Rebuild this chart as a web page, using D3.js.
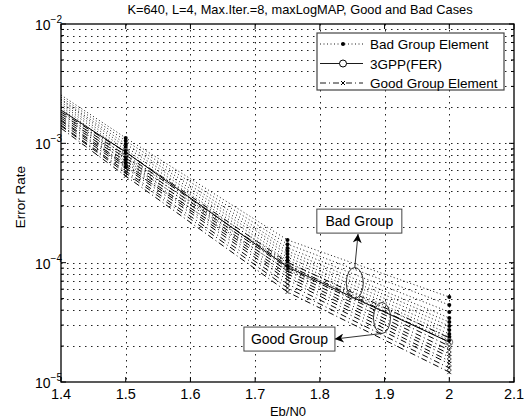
<!DOCTYPE html>
<html>
<head>
<meta charset="utf-8">
<script src="https://cdn.jsdelivr.net/npm/d3@7"></script>
<style>
    body { margin: 0; background: #fff; }
    text { font-family: "Liberation Sans", Arial, sans-serif; fill: #000; }
</style>
</head>
<body>
<div id="chart"></div>
<script>
// Eb/N0 points of every curve
const ebn0 = [1.4, 1.5, 1.75, 2.0];

// error rates of the bad group elements (dotted, dot markers)
const badGroup = [
    [2.54e-3, 1.11e-3, 1.55e-4, 5.15e-5],
    [2.44e-3, 1.05e-3, 1.43e-4, 4.42e-5],
    [2.35e-3, 9.87e-4, 1.33e-4, 3.86e-5],
    [2.31e-3, 9.31e-4, 1.25e-4, 3.44e-5],
    [2.22e-3, 8.79e-4, 1.18e-4, 3.18e-5],
    [2.14e-3, 8.30e-4, 1.11e-4, 2.95e-5],
    [2.06e-3, 7.68e-4, 1.05e-4, 2.73e-5],
    [1.98e-3, 7.25e-4, 9.93e-5, 2.53e-5],
    [1.90e-3, 6.84e-4, 9.37e-5, 2.38e-5],
    [1.83e-3, 6.33e-4, 8.68e-5, 2.25e-5]
];

// error rates of the good group elements (dash-dot, x markers)
const goodGroup = [
    [1.83e-3, 8.45e-4, 1.01e-4, 2.34e-5],
    [1.76e-3, 7.98e-4, 9.55e-5, 2.16e-5],
    [1.69e-3, 7.53e-4, 9.02e-5, 2.00e-5],
    [1.63e-3, 7.11e-4, 8.51e-5, 1.85e-5],
    [1.57e-3, 6.71e-4, 8.04e-5, 1.72e-5],
    [1.54e-3, 6.46e-4, 7.59e-5, 1.62e-5],
    [1.48e-3, 6.21e-4, 7.16e-5, 1.50e-5],
    [1.42e-3, 5.86e-4, 6.62e-5, 1.42e-5],
    [1.40e-3, 5.64e-4, 6.14e-5, 1.31e-5],
    [1.34e-3, 5.32e-4, 5.68e-5, 1.21e-5]
];

// 3GPP reference interleaver (solid, open circles)
const gppFer = [1.90e-3, 8.45e-4, 9.20e-5, 2.16e-5];

const xTicks = [1.4, 1.5, 1.6, 1.7, 1.8, 1.9, 2.0, 2.1];
const xTickLabels = ['1.4', '1.5', '1.6', '1.7', '1.8', '1.9', '2', '2.1'];
const yDecades = [-5, -4, -3, -2];

const title = 'K=640, L=4, Max.Iter.=8, maxLogMAP, Good and Bad Cases';
const legendLabels = ['Bad Group Element', '3GPP(FER)', 'Good Group Element'];

// callouts: ellipse centre, arrow tip and label box centre in data units
const callouts = [
    { label: 'Bad Group', ellipse: [1.854, 6.76e-5], tip: [1.859, 1.74e-4], box: [1.861, 2.23e-4], boxW: 85 },
    { label: 'Good Group', ellipse: [1.896, 3.44e-5], tip: [1.823, 2.29e-5], box: [1.753, 2.29e-5], boxW: 91 }
];

const width = 526, height = 419;
const margin = { top: 24, right: 12, bottom: 37, left: 61 };

const svg = d3.select('#chart').append('svg')
    .attr('width', width)
    .attr('height', height);

const xScale = d3.scaleLinear()
    .domain([1.4, 2.1])
    .range([margin.left, width - margin.right]);

const yScale = d3.scaleLog()
    .domain([1e-5, 1e-2])
    .range([height - margin.bottom, margin.top]);

const plotW = width - margin.left - margin.right;
const plotH = height - margin.top - margin.bottom;

// minor values 2..9 of every decade
const yMinor = [];
yDecades.slice(0, -1).forEach(e => {
    for (let m = 2; m <= 9; m++) yMinor.push(m * Math.pow(10, e));
});

// grid
const grid = svg.append('g').attr('class', 'grid')
    .attr('stroke', '#222')
    .attr('stroke-width', 1)
    .attr('stroke-dasharray', '1.5,4.5');

grid.selectAll('.gx')
    .data(xTicks.slice(1, -1))
    .enter().append('line')
    .attr('x1', d => Math.round(xScale(d)) + 0.5).attr('x2', d => Math.round(xScale(d)) + 0.5)
    .attr('y1', margin.top).attr('y2', height - margin.bottom);

grid.selectAll('.gy')
    .data(yMinor.concat(yDecades.slice(1, -1).map(e => Math.pow(10, e))))
    .enter().append('line')
    .attr('x1', margin.left).attr('x2', width - margin.right)
    .attr('y1', d => Math.round(yScale(d)) + 0.5).attr('y2', d => Math.round(yScale(d)) + 0.5);

// curves
svg.append('clipPath').attr('id', 'plotClip')
    .append('rect')
    .attr('x', margin.left).attr('y', margin.top)
    .attr('width', plotW).attr('height', plotH);

const plot = svg.append('g').attr('clip-path', 'url(#plotClip)');

const line = d3.line()
    .x(d => xScale(d[0]))
    .y(d => yScale(d[1]));

const toPoints = values => values.map((v, i) => [ebn0[i], v]);

goodGroup.forEach(series => {
    plot.append('path')
        .datum(toPoints(series))
        .attr('fill', 'none')
        .attr('stroke', '#000')
        .attr('stroke-width', 1)
        .attr('stroke-dasharray', '6,3,1,3')
        .attr('d', line);
});

badGroup.forEach(series => {
    plot.append('path')
        .datum(toPoints(series))
        .attr('fill', 'none')
        .attr('stroke', '#000')
        .attr('stroke-width', 0.9)
        .attr('stroke-dasharray', '1,2.5')
        .attr('d', line);
});

plot.append('path')
    .datum(toPoints(gppFer))
    .attr('fill', 'none')
    .attr('stroke', '#000')
    .attr('stroke-width', 1)
    .attr('d', line);

// markers (first point sits on the axis edge and shows none)
goodGroup.forEach(series => {
    plot.selectAll(null)
        .data(toPoints(series).slice(1))
        .enter().append('path')
        .attr('transform', d => 'translate(' + xScale(d[0]) + ',' + yScale(d[1]) + ')')
        .attr('d', 'M-2,-2L2,2M-2,2L2,-2')
        .attr('stroke', '#000')
        .attr('stroke-width', 0.8);
});

badGroup.forEach(series => {
    plot.selectAll(null)
        .data(toPoints(series).slice(1))
        .enter().append('circle')
        .attr('cx', d => xScale(d[0]))
        .attr('cy', d => yScale(d[1]))
        .attr('r', 2)
        .attr('fill', '#000');
});

plot.selectAll('.gppMarker')
    .data(toPoints(gppFer).slice(1))
    .enter().append('circle')
    .attr('cx', d => xScale(d[0]))
    .attr('cy', d => yScale(d[1]))
    .attr('r', 3.5)
    .attr('fill', 'none')
    .attr('stroke', '#777')
    .attr('stroke-width', 1);

// callouts
const defs = svg.append('defs');
defs.append('marker')
    .attr('id', 'arrowHead')
    .attr('viewBox', '0 0 10 10')
    .attr('refX', 10).attr('refY', 5)
    .attr('markerWidth', 11).attr('markerHeight', 9)
    .attr('markerUnits', 'userSpaceOnUse')
    .attr('orient', 'auto')
    .append('path')
    .attr('d', 'M0,0L10,5L0,10L3,5Z')
    .attr('fill', '#000');

callouts.forEach(c => {
    const ex = xScale(c.ellipse[0]), ey = yScale(c.ellipse[1]);
    const tx = xScale(c.tip[0]), ty = yScale(c.tip[1]);
    const bx = xScale(c.box[0]), by = yScale(c.box[1]);

    svg.append('ellipse')
        .attr('cx', ex).attr('cy', ey)
        .attr('rx', 8.5).attr('ry', 15.5)
        .attr('fill', 'none')
        .attr('stroke', '#333')
        .attr('stroke-width', 1);

    // arrow leaves the ellipse at its top or lower side
    const sx = ex;
    const sy = tx < ex ? ey + 15.5 : ey - 15.5;
    svg.append('line')
        .attr('x1', sx).attr('y1', sy)
        .attr('x2', tx).attr('y2', ty)
        .attr('stroke', '#333')
        .attr('stroke-width', 1)
        .attr('marker-end', 'url(#arrowHead)');

    svg.append('rect')
        .attr('x', bx - c.boxW / 2).attr('y', by - 12)
        .attr('width', c.boxW).attr('height', 24)
        .attr('fill', '#fff')
        .attr('stroke', '#444')
        .attr('stroke-width', 1);

    svg.append('text')
        .attr('x', bx).attr('y', by + 5)
        .attr('text-anchor', 'middle')
        .style('font-size', '14px')
        .text(c.label);
});

// axes frame and ticks (inward, on all four sides)
const axes = svg.append('g').attr('stroke', '#000').attr('stroke-width', 1);

axes.append('rect')
    .attr('x', margin.left).attr('y', margin.top)
    .attr('width', plotW).attr('height', plotH)
    .attr('fill', 'none')
    .attr('stroke-width', 1.3);

axes.selectAll('.xt')
    .data(xTicks)
    .enter().append('path')
    .attr('d', d => 'M' + xScale(d) + ',' + (height - margin.bottom) + 'v-5' +
        'M' + xScale(d) + ',' + margin.top + 'v5');

axes.selectAll('.yt')
    .data(yDecades.map(e => Math.pow(10, e)))
    .enter().append('path')
    .attr('d', d => 'M' + margin.left + ',' + yScale(d) + 'h5' +
        'M' + (width - margin.right) + ',' + yScale(d) + 'h-5');

axes.selectAll('.ym')
    .data(yMinor)
    .enter().append('path')
    .attr('d', d => 'M' + margin.left + ',' + yScale(d) + 'h3' +
        'M' + (width - margin.right) + ',' + yScale(d) + 'h-3');

svg.selectAll('.xl')
    .data(xTicks)
    .enter().append('text')
    .attr('x', d => xScale(d))
    .attr('y', height - margin.bottom + 17)
    .attr('text-anchor', 'middle')
    .style('font-size', '14.5px')
    .text((d, i) => xTickLabels[i]);

const yLabels = svg.selectAll('.yl')
    .data(yDecades)
    .enter().append('text')
    .attr('x', margin.left - 26)
    .attr('y', d => yScale(Math.pow(10, d)) + 6)
    .attr('text-anchor', 'start')
    .style('font-size', '14px');
yLabels.append('tspan').text('10');
yLabels.append('tspan')
    .attr('dy', -7)
    .style('font-size', '10px')
    .text(d => '\u2212' + Math.abs(d));

svg.append('text')
    .attr('x', 288)
    .attr('y', height - 3)
    .attr('text-anchor', 'middle')
    .style('font-size', '13px')
    .text('Eb/N0');

svg.append('text')
    .attr('transform', 'translate(25,197) rotate(-90)')
    .attr('text-anchor', 'middle')
    .style('font-size', '13.5px')
    .text('Error Rate');

svg.append('text')
    .attr('x', 300)
    .attr('y', 14)
    .attr('text-anchor', 'middle')
    .style('font-size', '12.8px')
    .text(title);

// legend
const legend = svg.append('g').attr('transform', 'translate(317,33)');

legend.append('rect')
    .attr('width', 187).attr('height', 57)
    .attr('fill', '#fff')
    .attr('stroke', '#444')
    .attr('stroke-width', 1.2);

const legendRows = [
    { dash: '1,2.5', marker: 'dot' },
    { dash: null, marker: 'circle' },
    { dash: '6,3,1,3', marker: 'x' }
];

legendRows.forEach((row, i) => {
    const ly = 11 + i * 19.5;
    legend.append('line')
        .attr('x1', 3).attr('x2', 46)
        .attr('y1', ly).attr('y2', ly)
        .attr('stroke', '#000')
        .attr('stroke-width', 0.9)
        .attr('stroke-dasharray', row.dash);
    if (row.marker === 'dot') {
        legend.append('circle').attr('cx', 26).attr('cy', ly).attr('r', 2).attr('fill', '#000');
    } else if (row.marker === 'circle') {
        legend.append('circle').attr('cx', 26).attr('cy', ly).attr('r', 3.5)
            .attr('fill', '#fff').attr('stroke', '#000');
    } else {
        legend.append('path')
            .attr('transform', 'translate(26,' + ly + ')')
            .attr('d', 'M-2,-2L2,2M-2,2L2,-2')
            .attr('stroke', '#000');
    }
    legend.append('text')
        .attr('x', 53).attr('y', ly + 5)
        .style('font-size', '13.5px')
        .text(legendLabels[i]);
});
</script>
</body>
</html>
